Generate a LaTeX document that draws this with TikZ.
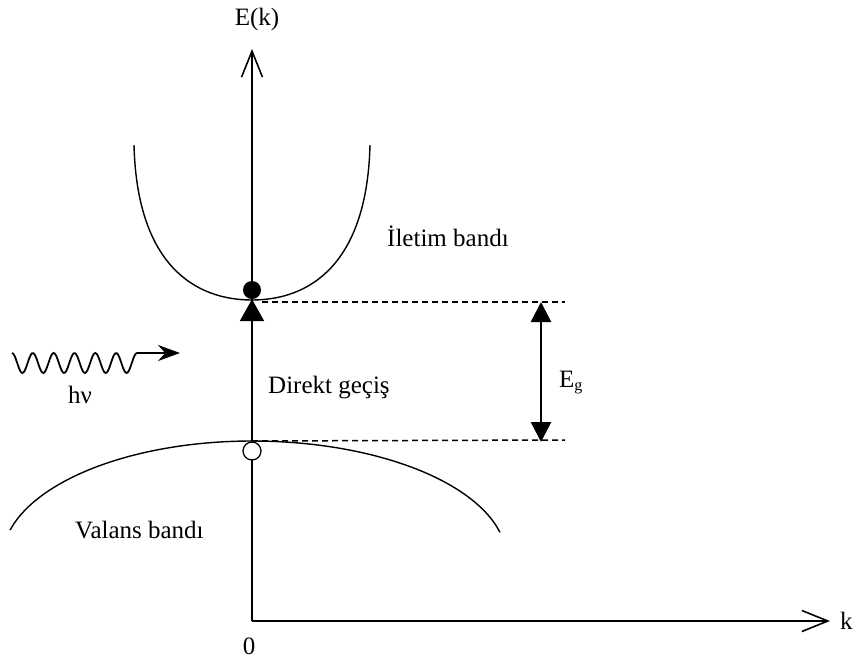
\documentclass[tikz,border=0pt]{standalone}
\usepackage{fontspec}
\setmainfont{Liberation Serif}
\usepackage{tikz}
\usetikzlibrary{arrows.meta,positioning}

\tikzset{
  lbl/.style={font=\fontsize{25}{30}\selectfont, inner sep=0pt},
  band/.style={line width=1.4pt},
  axis/.style={line width=1.6pt, -{Straight Barb[length=26pt,width=21pt]}},
  level/.style={line width=1.5pt, dash pattern=on 6pt off 4pt},
  thickarrow/.style={line width=2.5pt},
}

\begin{document}
\begin{tikzpicture}[x=1pt,y=-1pt,>=Latex]
\useasboundingbox (0,0) rectangle (854,659);
% eksenler
\coordinate (O) at (252,621);
\coordinate (ytip) at (252,49);
\coordinate (xtip) at (830,621);
\draw[axis] (O) -- (ytip);
\draw[axis] (O) -- (xtip);
\node[lbl, anchor=base] (ek) at (257,25) {E(k)};
\node[lbl, anchor=base west] (klbl) at (840,629) {k};
\node[lbl, anchor=base] (zero) at (249,654) {0};
% iletim bandi
\coordinate (cl) at (134,145);
\coordinate (cmin) at (252,300);
\coordinate (cr) at (370,145);
\draw[band] (cl) .. controls (137,265) and (195,300) .. (cmin)
  .. controls (309,300) and (367,265) .. (cr);
% valans bandi
\coordinate (vmax) at (252,441);
\draw[band] plot[domain=-242:0,samples=60,smooth] ({252+\x},{560-119*sqrt(1-(\x/250)*(\x/250))})
  -- plot[domain=0:248,samples=60,smooth] ({252+\x},{560-119*sqrt(1-(\x/255)*(\x/255))});
% seviyeler
\coordinate (cdash) at (262,302);
\coordinate (ctop) at (565,302);
\coordinate (vtop) at (565,440);
\draw[level] (cdash) -- (ctop);
\draw[level] (vmax) -- (vtop);
% Eg
\coordinate (ega) at (541,302);
\coordinate (egb) at (541,442);
\draw[thickarrow, {Triangle[length=20pt,width=20pt]}-{Triangle[length=20pt,width=20pt]}] (ega) -- (egb);
\node[lbl, anchor=base west] (eg) at (559,387) {E\raisebox{-3pt}{\fontsize{16}{16}\selectfont g}};
% elektron, desik ve gecis
\node[circle, fill, minimum size=18pt, inner sep=0pt] (elek) at (252,290) {};
\node[circle, draw, fill=white, line width=1.3pt, minimum size=18pt, inner sep=0pt] (desik) at (252,451) {};
\draw[thickarrow, -{Triangle[length=22pt,width=24pt]}] (desik.north) -- (elek.south);
% foton
\coordinate (hend) at (180,353);
\draw[line width=1.8pt, -{Stealth[length=22pt,width=16pt]}]
  plot[domain=12:137,samples=100,smooth] (\x,{363-10*cos(17.28*(\x-12))}) -- (hend);
% etiketler
\node[lbl, anchor=base west] (iletim) at (387,246) {İletim bandı};
\node[lbl, anchor=base west] (direkt) at (268,393) {Direkt geçiş};
\node[lbl, anchor=base west] (valans) at (75,538) {Valans bandı};
\node[lbl, anchor=base west] (hnu) at (68,403) {hν};
\end{tikzpicture}
\end{document}
